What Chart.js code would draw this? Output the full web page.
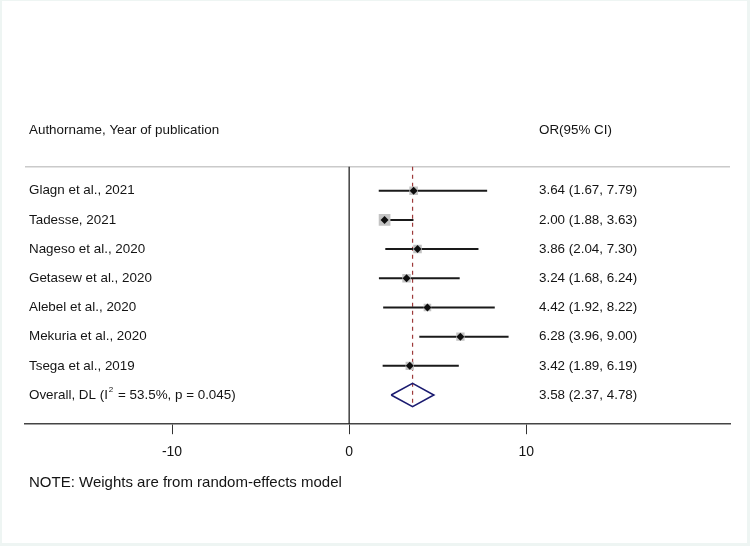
<!DOCTYPE html>
<html lang="en">
<head>
    <meta charset="UTF-8">
    <title>Forest plot</title>
    <script src="https://cdn.jsdelivr.net/npm/chart.js"></script>
    <style>
        html, body { margin: 0; padding: 0; background: #ffffff; }
        #forest { display: block; }
    </style>
</head>
<body>
    <canvas id="forest" width="750" height="546"></canvas>

    <script>
        // study data
        const studies = ['Glagn et al., 2021', 'Tadesse, 2021', 'Nageso et al., 2020', 'Getasew et al., 2020',
            'Alebel et al., 2020', 'Mekuria et al., 2020', 'Tsega et al., 2019'];
        const orValues = [3.64, 2.00, 3.86, 3.24, 4.42, 6.28, 3.42];
        const ciLower = [1.67, 1.88, 2.04, 1.68, 1.92, 3.96, 1.89];
        const ciUpper = [7.79, 3.63, 7.30, 6.24, 8.22, 9.00, 6.19];
        // weights (%) estimated from the size of the grey boxes
        const weights = [13.4, 24.8, 13.2, 13.1, 10.4, 12.6, 12.5];
        const overallOR = 3.58;
        const overallCI = [2.37, 4.78];
        const xTicks = [-10, 0, 10];

        const overallRow = studies.length;
        const headerRow = -2.06;
        const headerLineRow = -0.82;
        const xMin = -18.3, xMax = 21.5;
        const fmt = v => v.toFixed(2);
        const textFont = '13.4px "Liberation Sans", Arial, sans-serif';

        const ciLines = studies.map((s, i) => ({
            type: 'scatter', showLine: true, order: 3,
            data: [{ x: ciLower[i], y: i }, { x: ciUpper[i], y: i }],
            borderColor: '#1a1a1a', borderWidth: 2, pointRadius: 0
        }));

        const boxes = {
            type: 'scatter', order: 2,
            data: orValues.map((v, i) => ({ x: v, y: i })),
            pointStyle: 'rect',
            pointRadius: weights.map(w => Math.sqrt(w) * 1.66),
            backgroundColor: '#c3c3c3', borderWidth: 0
        };

        const points = {
            type: 'scatter', order: 0,
            data: orValues.map((v, i) => ({ x: v, y: i })),
            pointStyle: 'rectRot', pointRadius: 4,
            backgroundColor: '#0d0d0d', borderWidth: 0
        };

        const diamond = {
            type: 'scatter', showLine: true, order: 1,
            data: [
                { x: overallCI[0], y: overallRow },
                { x: overallOR, y: overallRow - 0.4 },
                { x: overallCI[1], y: overallRow },
                { x: overallOR, y: overallRow + 0.4 },
                { x: overallCI[0], y: overallRow }
            ],
            borderColor: '#1b1b70', borderWidth: 1.6, pointRadius: 0
        };

        const overallLine = {
            type: 'scatter', showLine: true, order: 4,
            data: [{ x: overallOR, y: headerLineRow }, { x: overallOR, y: overallRow + 0.4 }],
            borderColor: '#9e3a3a', borderWidth: 1.2, borderDash: [4, 4], pointRadius: 0
        };

        const zeroLine = {
            type: 'scatter', showLine: true, order: 5,
            data: [{ x: 0, y: headerLineRow }, { x: 0, y: 8 }],
            borderColor: '#222222', borderWidth: 1.3, pointRadius: 0
        };

        const headerLine = {
            type: 'scatter', showLine: true, order: 6,
            data: [{ x: xMin, y: headerLineRow }, { x: xMax, y: headerLineRow }],
            borderColor: '#cacaca', borderWidth: 1.6, pointRadius: 0
        };

        const textColumns = {
            id: 'textColumns',
            beforeDraw(chart) {
                const c = chart.ctx;
                c.save();
                c.fillStyle = '#eef5f3';
                c.fillRect(0, 0, chart.width, chart.height);
                c.fillStyle = '#ffffff';
                c.fillRect(2, 1, chart.width - 5, chart.height - 4);
                c.restore();
            },
            afterDraw(chart) {
                const c = chart.ctx;
                const y = chart.scales.y;
                c.save();
                c.fillStyle = '#141414';
                c.textBaseline = 'middle';
                c.font = textFont;
                c.fillText('Authorname, Year of publication', 29, y.getPixelForValue(headerRow));
                c.fillText('OR(95% CI)', 539, y.getPixelForValue(headerRow));
                studies.forEach((s, i) => {
                    const py = y.getPixelForValue(i);
                    c.fillText(s, 29, py);
                    c.fillText(`${fmt(orValues[i])} (${fmt(ciLower[i])}, ${fmt(ciUpper[i])})`, 539, py);
                });
                const oy = y.getPixelForValue(overallRow);
                let px = 29;
                const part1 = 'Overall, DL (I';
                c.fillText(part1, px, oy);
                px += c.measureText(part1).width + 1;
                c.font = '8px "Liberation Sans", Arial, sans-serif';
                c.fillText('2', px, oy - 5);
                px += c.measureText('2').width + 1;
                c.font = textFont;
                c.fillText(' = 53.5%, p = 0.045)', px, oy);
                c.fillText(`${fmt(overallOR)} (${fmt(overallCI[0])}, ${fmt(overallCI[1])})`, 539, oy);

                c.font = '15px "Liberation Sans", Arial, sans-serif';
                c.fillText('NOTE: Weights are from random-effects model', 29, 483);
                c.restore();
            }
        };

        new Chart(document.getElementById('forest'), {
            type: 'scatter',
            data: { datasets: [headerLine, zeroLine, overallLine, ...ciLines, boxes, diamond, points] },
            options: {
                responsive: false,
                animation: false,
                devicePixelRatio: 1,
                layout: { padding: { left: 25, right: 20, top: 0, bottom: 75 } },
                plugins: { legend: { display: false }, tooltip: { enabled: false } },
                scales: {
                    x: {
                        type: 'linear', min: xMin, max: xMax,
                        afterBuildTicks: scale => { scale.ticks = xTicks.map(v => ({ value: v })); },
                        ticks: {
                            color: '#141414', padding: 10,
                            font: { family: '"Liberation Sans", Arial, sans-serif', size: 14 }
                        },
                        grid: { drawOnChartArea: false, drawTicks: true, tickLength: 10, color: '#333333', lineWidth: 1 },
                        border: { display: true, color: '#444444', width: 1.5 }
                    },
                    y: { type: 'linear', display: false, min: -6.25, max: 8, reverse: true }
                }
            },
            plugins: [textColumns]
        });
    </script>
</body>
</html>
